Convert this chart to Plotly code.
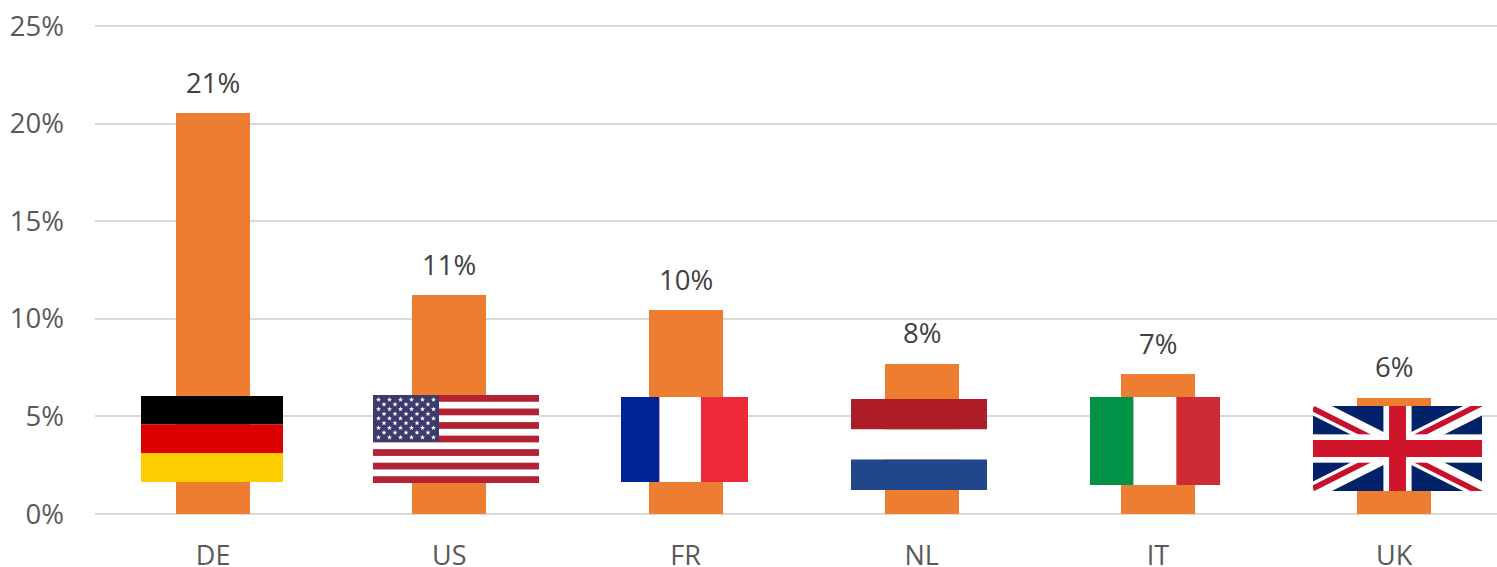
import base64, math
import plotly.graph_objects as go

countries = ["DE", "US", "FR", "NL", "IT", "UK"]
shares = [0.2054, 0.112, 0.1045, 0.077, 0.0715, 0.0595]
y_ticks = [0, 0.05, 0.10, 0.15, 0.20, 0.25]

W, H = 1497, 567
LEFT, TOP, BOTTOM = 95, 26, 514
HEADROOM = 3  # px above the 25% line, so that its gridline is kept
STEP = 236.2
FIRST = LEFT + STEP / 2
PX_PER_UNIT = (BOTTOM - TOP) / 0.25


def hbands(w, h, cuts, cols):
    out, prev = "", 0
    for c, col in zip(cuts + [h], cols):
        out += f'<rect x="0" y="{prev}" width="{w}" height="{c - prev}" fill="{col}"/>'
        prev = c
    return out


def vbands(w, h, cuts, cols):
    out, prev = "", 0
    for c, col in zip(cuts + [w], cols):
        out += f'<rect x="{prev}" y="0" width="{c - prev}" height="{h}" fill="{col}"/>'
        prev = c
    return out


def star(cx, cy, r):
    pts = []
    for i in range(10):
        a = -math.pi / 2 + i * math.pi / 5
        rr = r if i % 2 == 0 else r * 0.42
        pts.append(f"{cx + rr * math.cos(a):.2f},{cy + rr * math.sin(a):.2f}")
    return f'<polygon points="{" ".join(pts)}" fill="#FFFFFF"/>'


def us_flag(w, h):
    out = f'<rect width="{w}" height="{h}" fill="#FFFFFF"/>'
    sh = h / 13
    for i in range(0, 13, 2):
        out += f'<rect x="0" y="{i * sh:.2f}" width="{w}" height="{sh:.2f}" fill="#B22234"/>'
    cw, ch = 66, 47
    out += f'<rect x="0" y="0" width="{cw}" height="{ch}" fill="#3C3B6E"/>'
    dx, dy = cw / 12, ch / 10
    for row in range(9):
        n = 6 if row % 2 == 0 else 5
        for col in range(n):
            cx = dx * (2 * col + 1 + (row % 2))
            out += star(cx, dy * (row + 1), 2.6)
    return out


def uk_flag(w, h):
    return (
        '<g transform="scale(%.4f %.4f)">' % (w / 60, h / 30)
        + '<rect width="60" height="30" fill="#012169"/>'
        + '<path d="M0,0 L60,30 M60,0 L0,30" stroke="#FFFFFF" stroke-width="6"/>'
        + '<path d="M0,0 L30,15 M60,30 L30,15" stroke="#C8102E" stroke-width="2" transform="translate(0 0.9)"/>'
        + '<path d="M60,0 L30,15 M0,30 L30,15" stroke="#C8102E" stroke-width="2" transform="translate(0 -0.9)"/>'
        + '<rect x="25" y="0" width="10" height="30" fill="#FFFFFF"/>'
        + '<rect x="0" y="10" width="60" height="10" fill="#FFFFFF"/>'
        + '<rect x="27" y="0" width="6" height="30" fill="#CF142B"/>'
        + '<rect x="0" y="12" width="60" height="6" fill="#CF142B"/>'
        + "</g>"
    )


# flag boxes on the page: left, top, right, bottom
flag_boxes = {
    "DE": (141, 396, 283, 482),
    "US": (373, 395, 539, 483),
    "FR": (621, 397, 748, 482),
    "NL": (851, 399, 987, 490),
    "IT": (1090, 397, 1220, 485),
    "UK": (1313, 406, 1482, 491),
}
flag_art = {
    "DE": lambda w, h: hbands(w, h, [28.5, 57], ["#000000", "#DD0000", "#FFCE00"]),
    "US": us_flag,
    "FR": lambda w, h: vbands(w, h, [38.5, 80], ["#002395", "#FFFFFF", "#EE2A39"]),
    "NL": lambda w, h: hbands(w, h, [30.5, 60.5], ["#AE1C28", "#FFFFFF", "#21468B"]),
    "IT": lambda w, h: vbands(w, h, [43.5, 86.5], ["#009246", "#FFFFFF", "#CE2B37"]),
    "UK": uk_flag,
}


def flag_uri(code, w, h):
    svg = (
        f'<svg xmlns="http://www.w3.org/2000/svg" width="{w}" height="{h}" '
        f'viewBox="0 0 {w} {h}" preserveAspectRatio="none">{flag_art[code](w, h)}</svg>'
    )
    return "data:image/svg+xml;base64," + base64.b64encode(svg.encode()).decode()


fig = go.Figure(
    go.Bar(x=countries, y=shares, width=0.3133, marker=dict(color="#ED7D31", line_width=0), hoverinfo="x+y")
)

for code, (l, t, r, b) in flag_boxes.items():
    fig.add_layout_image(
        source=flag_uri(code, r - l, b - t),
        xref="x", yref="y", layer="above",
        x=(l - FIRST) / STEP, y=(BOTTOM - t) / PX_PER_UNIT,
        sizex=(r - l) / STEP, sizey=(b - t) / PX_PER_UNIT,
        xanchor="left", yanchor="top", sizing="stretch",
    )

for c, v in zip(countries, shares):
    fig.add_annotation(
        x=c, y=v, text=f"{v:.0%}", showarrow=False, yanchor="middle", yshift=31,
        font=dict(family="Open Sans", size=27.5, color="#404040"),
    )

fig.update_layout(
    width=W, height=H, autosize=False,
    margin=dict(l=LEFT, r=0, t=TOP - HEADROOM, b=H - BOTTOM, pad=0),
    paper_bgcolor="#FFFFFF", plot_bgcolor="#FFFFFF",
    showlegend=False, bargap=0,
    font=dict(family="Open Sans", size=27.5, color="#595959"),
)
fig.update_xaxes(
    type="category", range=[-0.5, (W - LEFT) / STEP - 0.5], showgrid=False,
    showline=False, ticks="", ticklabelstandoff=23, automargin=False,
    tickfont=dict(family="Open Sans", size=27, color="#595959"), fixedrange=True,
)
fig.update_yaxes(
    range=[0, 0.25 + HEADROOM / PX_PER_UNIT], tickvals=y_ticks, tickformat=".0%", showgrid=True,
    gridcolor="#D9D9D9", gridwidth=2, zeroline=True, zerolinecolor="#D9D9D9",
    zerolinewidth=2, showline=False, ticks="", ticklabelstandoff=30, automargin=False,
    tickfont=dict(family="Open Sans", size=27.5, color="#595959"), fixedrange=True,
)

fig.write_html(
    "out.html",
    config={"displayModeBar": False},
    post_script="document.body.style.margin='0';document.body.style.overflow='hidden';",
)
